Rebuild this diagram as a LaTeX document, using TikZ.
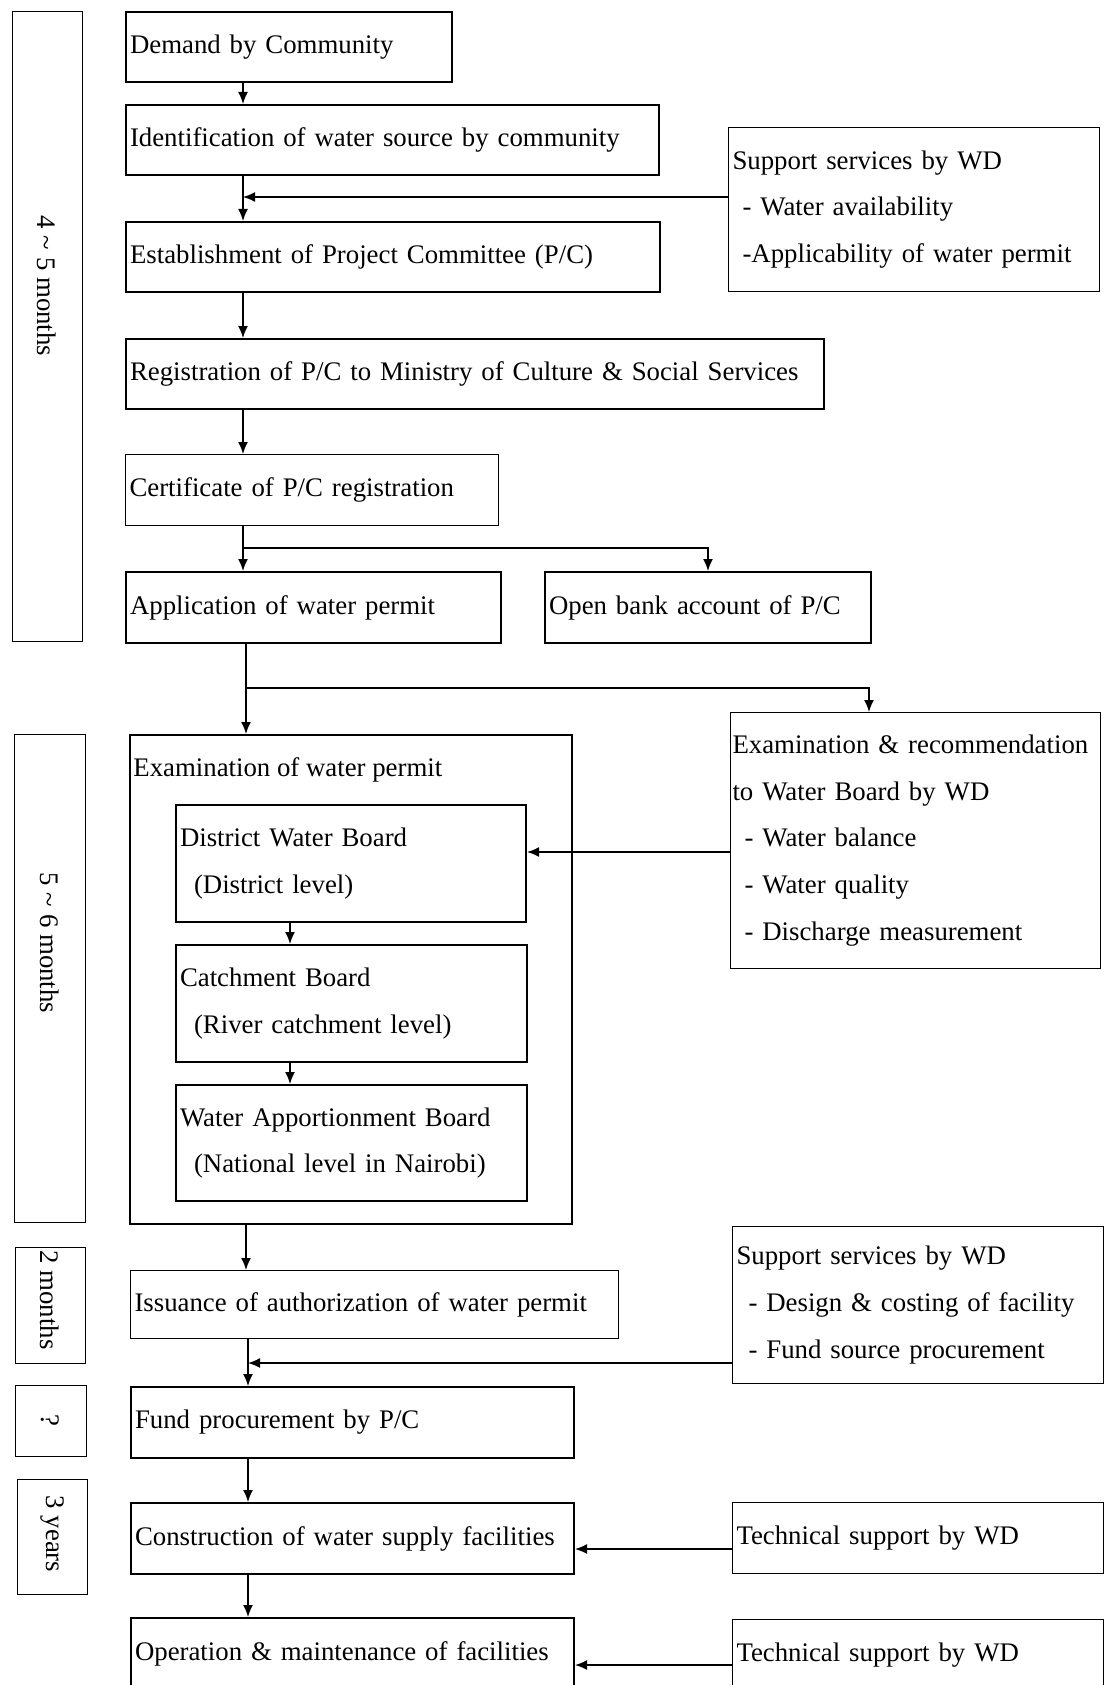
\documentclass[tikz,border=0pt]{standalone}
\usepackage{fontspec}
\setmainfont{Liberation Serif}
\usetikzlibrary{arrows.meta}

\begin{document}
\begin{tikzpicture}[x=0.5pt,y=-0.5pt,font=\fontsize{13.4}{23.4}\selectfont]
	\useasboundingbox (0,0) rectangle (1104,1685);
	\tikzstyle{BoxStyle}=[draw,line width=1pt,anchor=north west,inner xsep=2pt,inner ysep=0pt,align=left]
	\tikzstyle{ThinBox}=[BoxStyle,line width=0.5pt]
	\tikzstyle{TimeBox}=[draw,line width=0.5pt,anchor=north west,inner sep=0pt]
	\tikzstyle{TimeText}=[rotate=-90,inner sep=0pt]
	\tikzstyle{ArrowStyle}=[line width=0.8pt,-{Latex[length=6pt,width=5pt]}]
	\node[TimeBox,minimum width=35pt,minimum height=315pt] (tone) at (12,11) {};
	\node[TimeText] (tonetext) at (47,286) {4 \textasciitilde{} 5 months};
	\node[TimeBox,minimum width=35.5pt,minimum height=244pt] (ttwo) at (14,734) {};
	\node[TimeText] (ttwotext) at (49.5,943) {5 \textasciitilde{} 6 months};
	\node[TimeBox,minimum width=35pt,minimum height=58pt] (tthree) at (15,1247) {};
	\node[TimeText] (tthreetext) at (50,1300) {2 months};
	\node[TimeBox,minimum width=35.5pt,minimum height=35.5pt] (tfour) at (15,1385) {};
	\node[TimeText] (tfourtext) at (50.5,1420) {?};
	\node[TimeBox,minimum width=35pt,minimum height=57.5pt] (tfive) at (17,1479) {};
	\node[TimeText] (tfivetext) at (52,1534) {3 years};
	\node[BoxStyle,text width=159pt,minimum height=35pt] (demand) at (125,11) {Demand by Community};
	\node[BoxStyle,text width=262.5pt,minimum height=35pt] (ident) at (125,104) {Identification of water source by community};
	\node[ThinBox,text width=181.5pt,minimum height=82pt] (supone) at (728,127) {Support services by WD\\\hspace*{5pt}- Water availability\\\hspace*{5pt}-Applicability of water permit};
	\node[BoxStyle,text width=263pt,minimum height=35pt] (estab) at (125,221) {Establishment of Project Committee (P/C)};
	\node[BoxStyle,text width=345pt,minimum height=35pt] (regis) at (125,338) {Registration of P/C to Ministry of Culture \& Social Services};
	\node[ThinBox,text width=182.5pt,minimum height=35.5pt] (cert) at (125,454) {Certificate of P/C registration};
	\node[BoxStyle,text width=183.5pt,minimum height=35.5pt] (appl) at (125,571) {Application of water permit};
	\node[BoxStyle,text width=159pt,minimum height=35.5pt] (bank) at (544,571) {Open bank account of P/C};
	\node[BoxStyle,minimum width=221pt,minimum height=244.5pt] (exam) at (129,734) {};
	\node[anchor=west,inner sep=0pt] (examtitle) at ([xshift=2pt,yshift=-18pt]exam.north west) {Examination of water permit};
	\node[ThinBox,inner xsep=1pt,text width=183pt,minimum height=128pt] (examrec) at (730,712) {Examination \& recommendation\\to Water Board by WD\\\hspace*{6pt}- Water balance\\\hspace*{6pt}- Water quality\\\hspace*{6pt}- Discharge measurement};
	\node[BoxStyle,text width=171pt,minimum height=58.5pt] (district) at (175,804) {District Water Board\\\hspace*{7pt}(District level)};
	\node[BoxStyle,text width=171.5pt,minimum height=58.5pt] (catch) at (175,944) {Catchment Board\\\hspace*{7pt}(River catchment level)};
	\node[BoxStyle,text width=171.5pt,minimum height=58pt] (wab) at (175,1084) {Water Apportionment Board\\\hspace*{7pt}(National level in Nairobi)};
	\node[ThinBox,text width=240pt,minimum height=34pt] (issu) at (130,1270) {Issuance of authorization of water permit};
	\node[ThinBox,text width=181.5pt,minimum height=78.5pt] (suptwo) at (732,1226) {Support services by WD\\\hspace*{6pt}- Design \& costing of facility\\\hspace*{6pt}- Fund source procurement};
	\node[BoxStyle,text width=217.5pt,minimum height=35.5pt] (fund) at (130,1386) {Fund procurement by P/C};
	\node[BoxStyle,text width=217.5pt,minimum height=35.5pt] (constr) at (130,1502) {Construction of water supply facilities};
	\node[ThinBox,text width=181.5pt,minimum height=35.5pt] (techone) at (732,1502) {Technical support by WD};
	\node[BoxStyle,text width=217.5pt,minimum height=35.5pt] (oper) at (130,1617) {Operation \& maintenance of facilities};
	\node[ThinBox,text width=181.5pt,minimum height=35.5pt] (techtwo) at (732,1619) {Technical support by WD};
	\coordinate (spine) at (243,0);
	\coordinate (spinetwo) at (246,0);
	\coordinate (spinethree) at (290,0);
	\coordinate (spinefour) at (248,0);
	\coordinate (jone) at (243,197);
	\coordinate (jtwo) at (243,548);
	\coordinate (jthree) at (246,688);
	\coordinate (kthree) at (869,0);
	\coordinate (jfour) at (0,852);
	\coordinate (jfive) at (248,1363);
	\coordinate (jsix) at (0,1549);
	\coordinate (jseven) at (0,1665);
	\draw[ArrowStyle] (demand.south -| spine) -- (ident.north -| spine);
	\draw[ArrowStyle] (ident.south -| spine) -- (estab.north -| spine);
	\draw[ArrowStyle] (supone.west |- jone) -- (jone);
	\draw[ArrowStyle] (estab.south -| spine) -- (regis.north -| spine);
	\draw[ArrowStyle] (regis.south -| spine) -- (cert.north -| spine);
	\draw[ArrowStyle] (cert.south -| spine) -- (appl.north -| spine);
	\draw[ArrowStyle] (jtwo) -| (bank.north);
	\draw[ArrowStyle] (appl.south -| spinetwo) -- (exam.north -| spinetwo);
	\draw[ArrowStyle] (jthree) -| (examrec.north -| kthree);
	\draw[ArrowStyle] (examrec.west |- jfour) -- (district.east |- jfour);
	\draw[ArrowStyle] (district.south -| spinethree) -- (catch.north -| spinethree);
	\draw[ArrowStyle] (catch.south -| spinethree) -- (wab.north -| spinethree);
	\draw[ArrowStyle] (exam.south -| spinetwo) -- (issu.north -| spinetwo);
	\draw[ArrowStyle] (issu.south -| spinefour) -- (fund.north -| spinefour);
	\draw[ArrowStyle] (suptwo.west |- jfive) -- (jfive);
	\draw[ArrowStyle] (fund.south -| spinefour) -- (constr.north -| spinefour);
	\draw[ArrowStyle] (constr.south -| spinefour) -- (oper.north -| spinefour);
	\draw[ArrowStyle] (techone.west |- jsix) -- (constr.east |- jsix);
	\draw[ArrowStyle] (techtwo.west |- jseven) -- (oper.east |- jseven);
\end{tikzpicture}
\end{document}
